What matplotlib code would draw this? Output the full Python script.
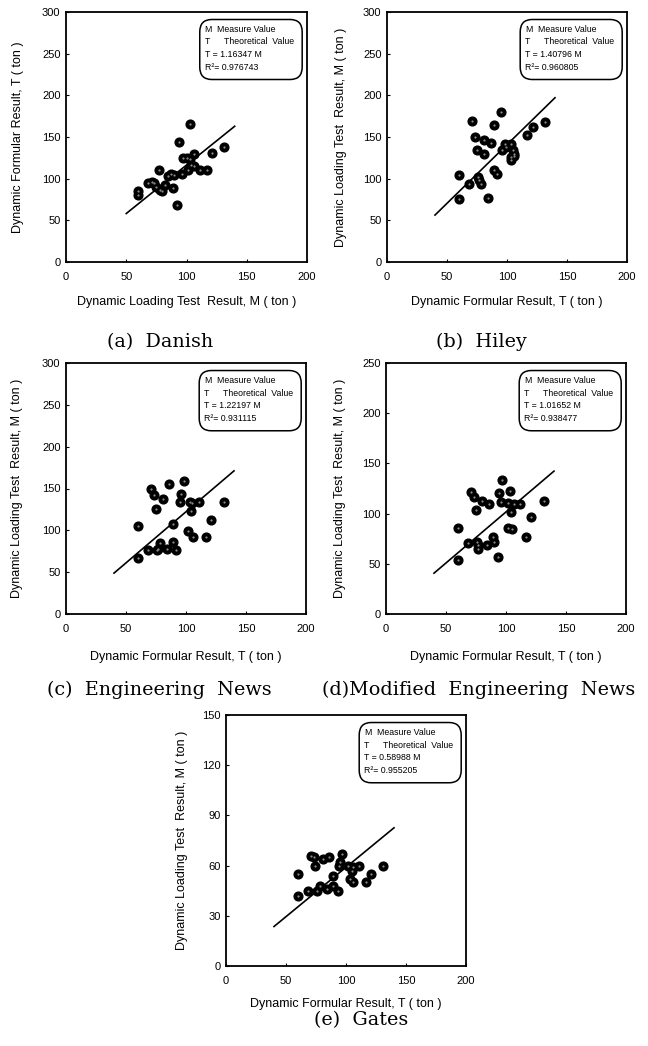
import matplotlib
matplotlib.use("Agg")
import matplotlib.pyplot as plt
from matplotlib.patches import FancyBboxPatch
import numpy as np

plt.rcParams["font.family"] = ["Liberation Sans", "DejaVu Sans"]

# ---- data (ton) ----
danish_x = [60, 60, 68, 71, 73, 75, 77, 78, 80, 82, 85, 87, 89, 90, 92, 94, 96, 97,
            100, 101, 103, 103, 104, 106, 106, 111, 117, 121, 131]
danish_y = [85, 80, 95, 96, 95, 90, 110, 86, 85, 92, 103, 106, 89, 105, 68, 144, 106, 125,
            125, 110, 166, 124, 117, 115, 130, 110, 110, 131, 138]

hiley_x = [60, 60, 68, 71, 73, 75, 76, 77, 78, 81, 81, 84, 87, 89, 89, 92, 95, 96,
           98, 99, 103, 103, 103, 105, 106, 106, 117, 122, 132]
hiley_y = [104, 76, 94, 169, 150, 134, 102, 98, 94, 130, 146, 77, 143, 165, 110, 106, 180, 134,
           142, 138, 142, 126, 122, 134, 127, 130, 152, 162, 168]

eng_x = [60, 60, 68, 71, 73, 75, 76, 77, 78, 81, 84, 86, 89, 89, 92, 95, 96, 98,
         102, 103, 104, 105, 106, 111, 117, 121, 132]
eng_y = [105, 67, 76, 149, 142, 126, 76, 78, 85, 138, 78, 155, 107, 86, 76, 134, 143, 159,
         99, 134, 123, 133, 92, 134, 92, 112, 134]

mod_x = [60, 60, 68, 71, 73, 75, 76, 77, 77, 80, 84, 86, 89, 90, 93, 94, 96, 97,
         102, 103, 104, 102, 105, 107, 112, 117, 121, 132]
mod_y = [86, 54, 71, 122, 117, 104, 72, 69, 65, 113, 69, 110, 77, 72, 57, 121, 112, 133,
         86, 123, 102, 111, 85, 110, 110, 77, 97, 113]

gates_x = [60, 60, 68, 71, 73, 74, 76, 78, 81, 84, 86, 89, 89, 93, 94, 95, 97,
           102, 103, 105, 106, 106, 111, 117, 121, 131]
gates_y = [55, 42, 45, 66, 65, 60, 45, 48, 64, 46, 65, 54, 48, 45, 60, 62, 67,
           60, 52, 57, 50, 59, 60, 50, 55, 60]

slopes = [1.16347, 1.40796, 1.22197, 1.01652, 0.58988]
r2 = [0.976743, 0.960805, 0.931115, 0.938477, 0.955205]
fit_x0 = [50, 40, 40, 40, 40]
fit_x1 = [140, 140, 140, 140, 140]
ymax = [300, 300, 300, 250, 150]
ystep = [50, 50, 50, 50, 30]
ylabels = ["Dynamic Formular Result, T ( ton )",
           "Dynamic Loading Test  Result, M ( ton )",
           "Dynamic Loading Test  Result, M ( ton )",
           "Dynamic Loading Test  Result, M ( ton )",
           "Dynamic Loading Test  Result, M ( ton )"]
xlabels = ["Dynamic Loading Test  Result, M ( ton )",
           "Dynamic Formular Result, T ( ton )",
           "Dynamic Formular Result, T ( ton )",
           "Dynamic Formular Result, T ( ton )",
           "Dynamic Formular Result, T ( ton )"]
captions = ["(a)  Danish", "(b)  Hiley", "(c)  Engineering  News",
            "(d)Modified  Engineering  News", "(e)  Gates"]

xs = [danish_x, hiley_x, eng_x, mod_x, gates_x]
ys = [danish_y, hiley_y, eng_y, mod_y, gates_y]

W, H = 648, 1046
fig = plt.figure(figsize=(W / 100, H / 100), dpi=100)

# axes boxes in pixels: left, top, right, bottom
boxes = [(66, 12, 307, 262), (387, 12, 627, 262),
         (66, 363, 306, 614), (386, 363, 626, 614),
         (226, 715, 466, 966)]
ylab_off = [-0.20, -0.19, -0.205, -0.19, -0.185]
xlab_off = [-0.16, -0.16, -0.17, -0.17, -0.15]

for i in range(5):
    l, t, r, b = boxes[i]
    ax = fig.add_axes([l / W, 1 - b / H, (r - l) / W, (b - t) / H])
    ax.plot(xs[i], ys[i], "o", ms=6.3, color="black", mec="black", zorder=3)
    ax.plot(xs[i], ys[i], "o", ms=1.6, color="#8a8a8a", mec="none", zorder=4)
    fx = np.array([fit_x0[i], fit_x1[i]])
    ax.plot(fx, slopes[i] * fx, color="black", lw=1.2, zorder=2)
    ax.set_xlim(0, 200)
    ax.set_ylim(0, ymax[i])
    ax.set_xticks(range(0, 201, 50))
    ax.set_yticks(range(0, ymax[i] + 1, ystep[i]))
    ax.tick_params(direction="in", length=2.5, width=0.8, labelsize=8, pad=4)
    ax.tick_params(axis="x", pad=7)
    for sp in ax.spines.values():
        sp.set_linewidth(1.3)
    ax.text(0.5, xlab_off[i], xlabels[i], transform=ax.transAxes, ha="center",
            va="center", fontsize=9)
    ax.text(ylab_off[i], 0.5, ylabels[i], transform=ax.transAxes, ha="center",
            va="center", rotation=90, fontsize=9)

    # rounded legend box
    box = FancyBboxPatch((0.555, 0.73), 0.425, 0.24, transform=ax.transAxes,
                         boxstyle="round,pad=0,rounding_size=0.05",
                         fc="white", ec="black", lw=1.1, zorder=5)
    ax.add_patch(box)
    lines = ["M", "T", f"T = {slopes[i]:.5f} M", f"R\u00b2= {r2[i]:.6f}"]
    ly = [0.93, 0.88, 0.83, 0.78]
    for k, s in enumerate(lines):
        ax.text(0.575, ly[k], s, transform=ax.transAxes, fontsize=6.3,
                va="center", ha="left", zorder=6)
    ax.text(0.628, ly[0], "Measure Value", transform=ax.transAxes, fontsize=6.3,
            va="center", ha="left", zorder=6)
    ax.text(0.655, ly[1], "Theoretical  Value", transform=ax.transAxes, fontsize=6.3,
            va="center", ha="left", zorder=6)

cap_kw = dict(fontsize=13.8, family="DejaVu Serif", va="center")
fig.text(160 / W, 1 - 342 / H, captions[0], ha="center", **cap_kw)
fig.text(481 / W, 1 - 342 / H, captions[1], ha="center", **cap_kw)
fig.text(272 / W, 1 - 690 / H, captions[2], ha="right", **cap_kw)
fig.text(322 / W, 1 - 690 / H, captions[3], ha="left", **cap_kw)
fig.text(361 / W, 1 - 1020 / H, captions[4], ha="center", **cap_kw)

fig.savefig("out.png", dpi=100)
